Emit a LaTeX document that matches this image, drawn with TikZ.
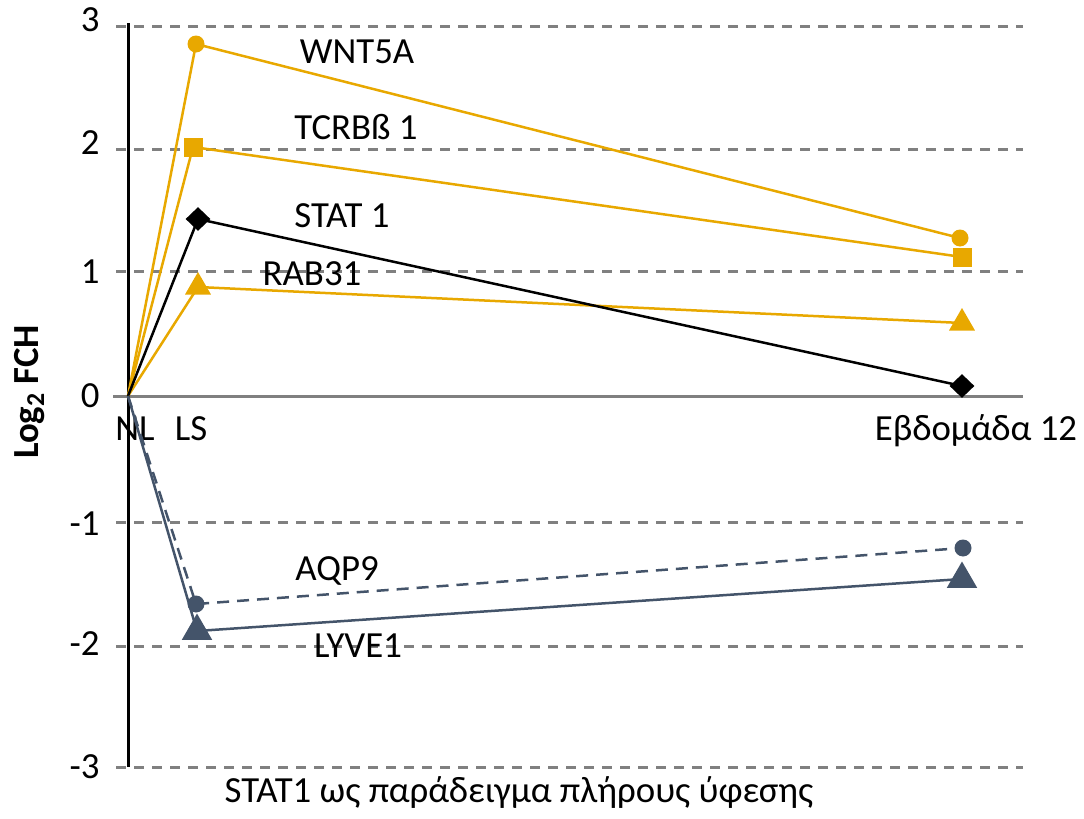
\documentclass[tikz,border=0pt]{standalone}
\usepackage{fontspec}
\setmainfont{Carlito}
\usetikzlibrary{shapes.geometric}
\definecolor{gold}{RGB}{232,168,0}
\definecolor{slate}{RGB}{68,84,106}
\definecolor{gridgray}{RGB}{128,128,128}
\begin{document}
\begin{tikzpicture}[x=0.5pt,y=-0.5pt,
  lbl/.style={font=\fontsize{18.4}{22}\selectfont,inner sep=0pt,anchor=base},
  tick/.style={font=\fontsize{18.4}{22}\selectfont,inner sep=0pt,anchor=base east},
  gridln/.style={gridgray,line width=1.5pt,dash pattern=on 5pt off 4pt},
  series/.style={line width=1.25pt},
  dot/.style={circle,fill=#1,inner sep=0pt,minimum size=8.5pt},
  sq/.style={rectangle,fill=#1,inner sep=0pt,minimum size=9.5pt},
  diam/.style={diamond,fill=#1,inner sep=0pt,minimum width=12.5pt,minimum height=12pt},
  tri/.style={regular polygon,regular polygon sides=3,fill=#1,inner sep=0pt,minimum size=15pt},
  bigtri/.style={regular polygon,regular polygon sides=3,fill=#1,inner sep=0pt,minimum size=17.5pt}]
\useasboundingbox (0,0) rectangle (1084,819);

% horizontal grid
\foreach \yy in {26,149,271,522,646,767}
  \draw[gridln] (116,\yy) -- (1023,\yy);
\draw[gridgray,line width=1.5pt] (113,396) -- (1023,396);
% vertical axis
\draw[black,line width=1.5pt] (128,23) -- (128,767);

% tick labels
\node[tick] (t3)  at (100,32)  {3};
\node[tick] (t2)  at (100,155) {2};
\node[tick] (t1)  at (100,283) {1};
\node[tick] (t0)  at (100,407) {0};
\node[tick] (tm1) at (100,535) {-1};
\node[tick] (tm2) at (100,655) {-2};
\node[tick] (tm3) at (100,778) {-3};

% category labels
\node[lbl] (nl) at (135,440) {NL};
\node[lbl] (ls) at (191,440) {LS};
\node[lbl] (wk) at (976,440) {Εβδομάδα 12};

% axis title and caption
\node[font=\fontsize{18.4}{22}\selectfont\bfseries,rotate=90,inner sep=0pt] (ytitle) at (30,392) {Log\textsubscript{2} FCH};
\node[lbl] (caption) at (519,802) {STAT1 ως παράδειγμα πλήρους ύφεσης};

% data points
\coordinate (o) at (128,396);
\coordinate (w1) at (196,44);   \coordinate (w2) at (960,238);
\coordinate (c1) at (193,147);  \coordinate (c2) at (962,257);
\coordinate (s1) at (198,219);  \coordinate (s2) at (962,386);
\coordinate (r1) at (198,287);  \coordinate (r2) at (962,323);
\coordinate (a1) at (196,604);  \coordinate (a2) at (963,548);
\coordinate (l1) at (197,631);  \coordinate (l2) at (962,579);

% series lines
\draw[series,gold]  (o) -- (w1) -- (w2);
\draw[series,gold]  (o) -- (c1) -- (c2);
\draw[series,gold]  (o) -- (r1) -- (r2);
\draw[series,black] (o) -- (s1) -- (s2);
\draw[series,slate,dash pattern=on 6pt off 4pt] (o) -- (a1) -- (a2);
\draw[series,slate] (o) -- (l1) -- (l2);

% markers
\node[dot=gold] (mw1) at (w1) {};  \node[dot=gold] (mw2) at (w2) {};
\node[sq=gold]  (mc1) at (c1) {};  \node[sq=gold]  (mc2) at (c2) {};
\node[tri=gold] (mr1) at (r1) {};  \node[tri=gold] (mr2) at (r2) {};
\node[diam=black] (ms1) at (s1) {}; \node[diam=black] (ms2) at (s2) {};
\node[dot=slate] (ma1) at (a1) {}; \node[dot=slate] (ma2) at (a2) {};
\node[bigtri=slate] (ml1) at (l1) {}; \node[bigtri=slate] (ml2) at (l2) {};

% series names
\node[lbl] (nw) at (357,63)  {WNT5A};
\node[lbl] (nc) at (356,140) {TCRBß 1};
\node[lbl] (ns) at (342,227) {STAT 1};
\node[lbl] (nr) at (312,285) {RAB31};
\node[lbl] (na) at (337,580) {AQP9};
\node[lbl] (nl1) at (358,657) {LYVE1};
\end{tikzpicture}
\end{document}
